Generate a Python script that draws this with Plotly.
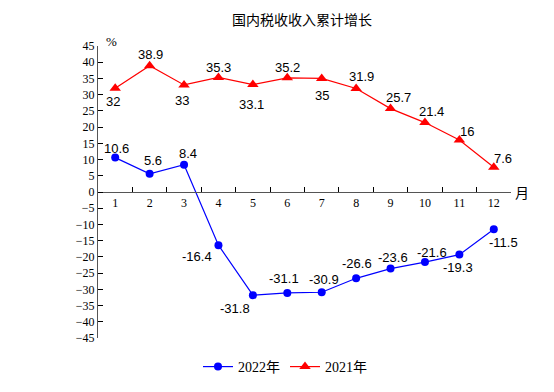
import plotly.graph_objects as go

months = ["1", "2", "3", "4", "5", "6", "7", "8", "9", "10", "11", "12"]
growth_2022 = [10.6, 5.6, 8.4, -16.4, -31.8, -31.1, -30.9, -26.6, -23.6, -21.6, -19.3, -11.5]
growth_2021 = [32, 38.9, 33, 35.3, 33.1, 35.2, 35, 31.9, 25.7, 21.4, 16, 7.6]
y_ticks = list(range(-45, 50, 5))

# label offsets (pixels, dx right, dy down) relative to each point
off_2022 = [(1, -9), (3, -13), (4, -11), (-21, 11), (-18, 13), (-3, -14), (2, -13),
            (1, -15), (2, -11), (7, -10), (-1, 13), (10, 13)]
off_2021 = [(-2, 13), (1, -11), (-2, 16), (0, -10), (-1, 20), (0, -10), (0, 17),
            (5, -12), (8, -11), (7, -11), (8, -9), (9, -9)]

SERIF = "Liberation Serif, Times New Roman, serif"
SANS = "Liberation Sans, Arial, sans-serif"
CJK = "Noto Sans CJK SC"

W, H = 554, 392
OFF = 8  # page body margin
pw, ph = 413, 292
L, T = 98 - OFF, 46 - OFF
R, B = W - L - pw, H - T - ph

fig = go.Figure()
fig.add_trace(go.Scatter(
    x=months, y=growth_2022, mode="lines+markers", name="2022年",
    line=dict(color="#0000FF", width=1.2),
    marker=dict(symbol="circle", size=8, color="#0000FF"),
))
fig.add_trace(go.Scatter(
    x=months, y=growth_2021, mode="lines+markers", name="2021年",
    line=dict(color="#FF0000", width=1.2),
    marker=dict(symbol="triangle-up", size=10, color="#FF0000"),
))

ann = []
for vals, offs in ((growth_2022, off_2022), (growth_2021, off_2021)):
    for i, (v, (dx, dy)) in enumerate(zip(vals, offs)):
        ann.append(dict(x=i, y=v, xref="x", yref="y", text=f"{v:g}", showarrow=False,
                        xshift=dx, yshift=-dy,
                        font=dict(family=SANS, size=13, color="black")))

ann.append(dict(x=(104 - 98) / pw, y=(338 - 32) / ph, xref="paper", yref="paper",
                text="%", showarrow=False, font=dict(family=SERIF, size=13, color="black")))
ann.append(dict(x=(531 - 98) / pw, y=0.5, xref="paper", yref="paper",
                text="月", showarrow=False, font=dict(family=CJK, size=14, color="black")))

fig.update_layout(
    template="none",
    width=W, height=H,
    margin=dict(l=L, r=R, t=T, b=B, autoexpand=False),
    paper_bgcolor="white", plot_bgcolor="white",
    annotations=ann,
    title=dict(text="国内税收收入累计增长", x=(302 - OFF) / W, xanchor="center",
               y=1 - (20 - OFF) / H, yanchor="middle",
               font=dict(family=CJK, size=14, color="black")),
    showlegend=True,
    legend=dict(orientation="h", x=(285 - 98) / pw, xanchor="center", y=-29 / ph, yanchor="middle",
                font=dict(family=SERIF + ", " + CJK, size=14, color="black"),
                bgcolor="rgba(0,0,0,0)"),
    xaxis=dict(type="category", range=[-0.5, 11.5], tickson="boundaries", automargin=False,
               ticks="inside", ticklen=5, tickcolor="black", showline=True, linecolor="#555",
               linewidth=1, showgrid=False, zeroline=False, anchor="free", position=0.5,
               tickfont=dict(family=SERIF, size=12, color="black")),
    yaxis=dict(range=[-45, 45], tickvals=y_ticks, ticks="inside", ticklen=5, tickcolor="black",
               showline=True, linecolor="#555", linewidth=1, showgrid=False, zeroline=False,
               automargin=False,
               tickfont=dict(family=SERIF, size=12, color="black")),
    font=dict(family=SERIF, color="black"),
)

fig.write_html("out.html")
